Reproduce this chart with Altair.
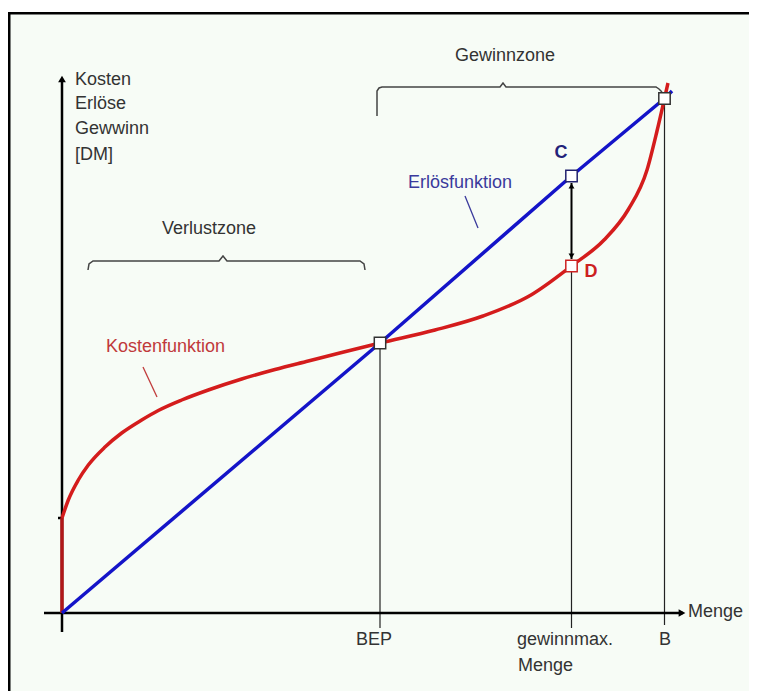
import altair as alt
import pandas as pd

# ---------------- data ----------------
# Positions on the quantity axis (Menge)
bep_x = 318
gmax_x = 509.5
b_x = 602.5
fixed_cost = 95          # y-axis tick: fixed costs

# Erlösfunktion (revenue line)
revenue_x = [0, 318, 509.5, 602.5, 610]
revenue_y = [0, 270, 437, 514.5, 522]

# Kostenfunktion (cost curve)
cost_x = [0, 6.3, 16.3, 26.3, 43, 59.7, 79.7, 96.3, 119.7, 146.3, 179.7, 213, 246.3,
          279.7, 318, 373, 421, 469, 509.5, 542, 566, 585, 595, 602.5, 606]
cost_y = [95, 113, 133, 148, 166, 180, 193, 202.5, 213, 223, 234, 243.5, 252,
          260.5, 270, 283, 297, 318, 347, 373, 403, 443, 482, 514.5, 530]

# Marker squares: BEP, C, D, B
marker_names = ["BEP", "C", "D", "B"]
marker_x = [318, 509.5, 509.5, 602.5]
marker_y = [270, 437, 347, 514.5]
marker_stroke = ["#333333", "#22226e", "#cc2222", "#333333"]

# x-axis labels
tick_labels = ["BEP", "gewinnmax.", "B"]
tick_label_x = [312, 455, 603]

# y-axis title lines
y_title_lines = ["Kosten", "Erlöse", "Gewwinn", "[DM]"]
y_title_y = [533, 509, 484, 458]

# braces (zones)
verlust_x = [26, 27, 31, 157, 161, 165, 298, 302, 303]
verlust_y = [343, 349, 352, 352, 357, 352, 352, 349, 343]
gewinn_x = [315, 315, 317, 320, 438, 441, 444, 594, 597, 600]
gewinn_y = [497, 522, 525, 526, 526, 530, 526, 526, 524, 521]

# ---------------- chart ----------------
W, H = 741, 683
XS = alt.Scale(domain=[-54, 687])
YS = alt.Scale(domain=[-78, 605])
BG = "#f7fcf6"
FONT = "Liberation Sans"
TXT = "#333333"


def X(f="x"):
    return alt.X(f"{f}:Q", scale=XS, axis=None)


def Y(f="y"):
    return alt.Y(f"{f}:Q", scale=YS, axis=None)


# frame: light fill, black top and left border
frame = alt.Chart(pd.DataFrame({"x": [-54], "x2": [687], "y": [600], "y2": [-78]})).mark_rect(
    fill=BG, strokeWidth=0
).encode(x=X(), x2="x2:Q", y=Y(), y2="y2:Q")
border = alt.Chart(pd.DataFrame({
    "x": [-54, -52.75], "x2": [687, -52.75], "y": [599.75, 601], "y2": [599.75, -78],
})).mark_rule(color="black", strokeWidth=2.5).encode(x=X(), x2="x2:Q", y=Y(), y2="y2:Q")

# axes
axes_df = pd.DataFrame({
    "x": [0, -18, -4], "x2": [0, 621, 0],
    "y": [-19, 0, fixed_cost], "y2": [534, 0, fixed_cost],
})
axes = alt.Chart(axes_df).mark_rule(color="black", strokeWidth=2.5).encode(
    x=X(), x2="x2:Q", y=Y(), y2="y2:Q")

arrow_up = alt.Chart(pd.DataFrame({"x": [0], "y": [534]})).mark_point(
    shape="triangle-up", filled=True, color="black", size=60, opacity=1).encode(x=X(), y=Y())
arrow_right = alt.Chart(pd.DataFrame({"x": [620], "y": [0]})).mark_point(
    shape="triangle-right", filled=True, color="black", size=60, opacity=1).encode(x=X(), y=Y())

# drop lines
drop_df = pd.DataFrame({
    "x": [bep_x, gmax_x, b_x], "y": [-15, -15, -12],
    "y2": [marker_y[0], marker_y[2], marker_y[3]],
})
drops = alt.Chart(drop_df).mark_rule(color="#222222", strokeWidth=1.2).encode(
    x=X(), y=Y(), y2="y2:Q")

# cost curve: vertical fixed-cost part + curve
fixed_rule = alt.Chart(pd.DataFrame({"x": [0], "y": [0], "y2": [fixed_cost]})).mark_rule(
    color="#b01818", strokeWidth=3.5).encode(x=X(), y=Y(), y2="y2:Q")
cost = alt.Chart(pd.DataFrame({"x": cost_x, "y": cost_y, "o": range(len(cost_x))})).mark_line(
    color="#d41c1c", strokeWidth=3.5, interpolate="monotone").encode(
    x=X(), y=Y(), order="o:Q")

revenue = alt.Chart(pd.DataFrame({"x": revenue_x, "y": revenue_y, "o": range(len(revenue_x))})).mark_line(
    color="#1414c8", strokeWidth=3.5).encode(x=X(), y=Y(), order="o:Q")

# double arrow C - D
cd_rule = alt.Chart(pd.DataFrame({"x": [gmax_x], "y": [354], "y2": [430]})).mark_rule(
    color="black", strokeWidth=2).encode(x=X(), y=Y(), y2="y2:Q")
cd_up = alt.Chart(pd.DataFrame({"x": [gmax_x], "y": [427]})).mark_point(
    shape="triangle-up", filled=True, color="black", size=35, opacity=1).encode(x=X(), y=Y())
cd_down = alt.Chart(pd.DataFrame({"x": [gmax_x], "y": [357]})).mark_point(
    shape="triangle-down", filled=True, color="black", size=35, opacity=1).encode(x=X(), y=Y())

# squares
markers = alt.Chart(pd.DataFrame({"x": marker_x, "y": marker_y, "s": marker_stroke, "n": marker_names})).mark_square(
    fill="white", filled=False, size=130, strokeWidth=1.5, opacity=1, fillOpacity=1).encode(
    x=X(), y=Y(), stroke=alt.Stroke("s:N", scale=None))

# braces
brace_df = pd.DataFrame({
    "x": verlust_x + gewinn_x,
    "y": verlust_y + gewinn_y,
    "g": ["v"] * len(verlust_x) + ["g"] * len(gewinn_x),
    "o": list(range(len(verlust_x))) + list(range(len(gewinn_x))),
})
braces = alt.Chart(brace_df).mark_line(color="#444444", strokeWidth=1.5).encode(
    x=X(), y=Y(), detail="g:N", order="o:Q")

# leader lines
lead_df = pd.DataFrame({
    "x": [403, 416, 81, 95], "y": [417, 385, 246, 216],
    "g": ["e", "e", "k", "k"], "c": ["#3a3a9c", "#3a3a9c", "#c03a3a", "#c03a3a"], "o": [0, 1, 0, 1],
})
leaders = alt.Chart(lead_df).mark_line(strokeWidth=1.3).encode(
    x=X(), y=Y(), detail="g:N", order="o:Q", color=alt.Color("c:N", scale=None))

# texts
center_df = pd.DataFrame({
    "t": ["Gewinnzone", "Verlustzone", "Kostenfunktion", "Erlösfunktion", "BEP", "B"],
    "x": [443, 147, 103.5, 398, tick_label_x[0], tick_label_x[2]],
    "y": [557, 384, 266, 430, -27, -27],
    "c": [TXT, TXT, "#c0393b", "#3a3a9c", TXT, TXT],
})
center_txt = alt.Chart(center_df).mark_text(
    font=FONT, fontSize=18, align="center", baseline="middle").encode(
    x=X(), y=Y(), text="t:N", color=alt.Color("c:N", scale=None))

left_df = pd.DataFrame({
    "t": y_title_lines + [tick_labels[1], "Menge", "Menge"],
    "x": [13] * 4 + [tick_label_x[1], 456, 626],
    "y": y_title_y + [-27, -53, 1],
})
left_txt = alt.Chart(left_df).mark_text(
    font=FONT, fontSize=18, align="left", baseline="middle", color=TXT).encode(
    x=X(), y=Y(), text="t:N")

bold_df = pd.DataFrame({
    "t": ["C", "D"], "x": [499, 529], "y": [460, 341], "c": ["#22227a", "#cc2020"],
})
bold_txt = alt.Chart(bold_df).mark_text(
    font=FONT, fontSize=18, fontWeight="bold", align="center", baseline="middle").encode(
    x=X(), y=Y(), text="t:N", color=alt.Color("c:N", scale=None))

chart = alt.layer(
    frame, border, braces, leaders, drops, axes, arrow_up, arrow_right,
    fixed_rule, cost, revenue, cd_rule, cd_up, cd_down, markers,
    center_txt, left_txt, bold_txt,
).properties(
    width=W, height=H, autosize=alt.AutoSizeParams(type="none"), padding=0, background="white"
).configure_view(stroke=None)

chart.save("out.html", embed_options={"renderer": "svg", "actions": False})
